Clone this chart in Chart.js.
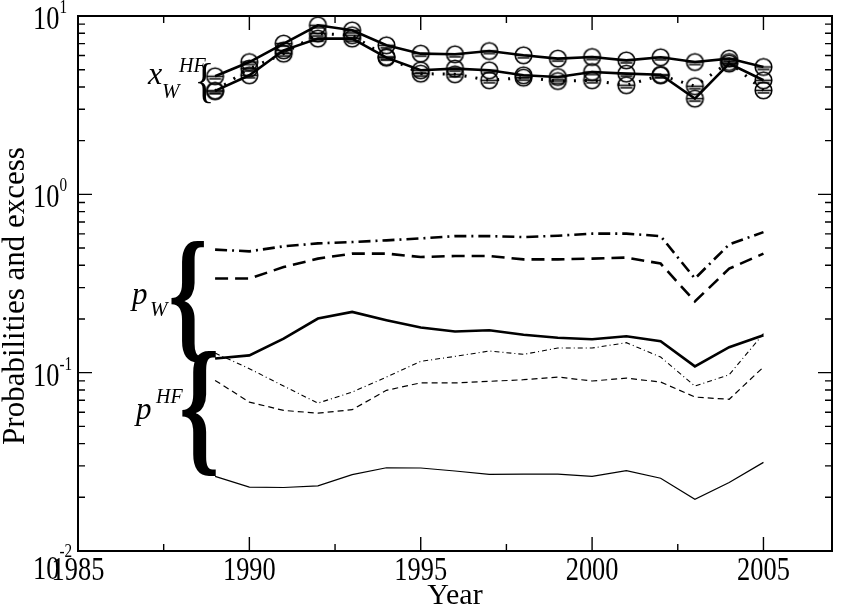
<!DOCTYPE html>
<html>
<head>
<meta charset="utf-8">
<script src="https://cdn.jsdelivr.net/npm/chart.js@4.4.1/dist/chart.umd.min.js"></script>
<style>
  html, body { margin: 0; padding: 0; background: #fff; }
  #wrap { width: 845px; height: 606px; }
</style>
</head>
<body>
<div id="wrap"><canvas id="chartMain" width="845" height="606"></canvas></div>
<script>
// ===== Data =====
const years = [1989, 1990, 1991, 1992, 1993, 1994, 1995, 1996, 1997,
               1998, 1999, 2000, 2001, 2002, 2003, 2004, 2005];

// p_W: three thick curves
const pWSolid   = [0.120, 0.125, 0.155, 0.201, 0.219, 0.197, 0.179, 0.170, 0.173,
                   0.163, 0.157, 0.154, 0.160, 0.150, 0.1085, 0.139, 0.162];
const pWDashed  = [0.337, 0.337, 0.391, 0.436, 0.465, 0.465, 0.445, 0.451, 0.451,
                   0.432, 0.432, 0.436, 0.442, 0.409, 0.251, 0.383, 0.465];
const pWDashDot = [0.490, 0.479, 0.511, 0.531, 0.540, 0.552, 0.566, 0.583, 0.583,
                   0.576, 0.586, 0.602, 0.602, 0.583, 0.337, 0.524, 0.614];

// p^HF: three thin curves
const pHFSolid   = [0.0262, 0.0228, 0.0227, 0.0232, 0.0268, 0.0293, 0.0292, 0.0281, 0.0269,
                    0.0270, 0.0270, 0.0262, 0.0282, 0.0256, 0.0195, 0.0242, 0.0314];
const pHFDashed  = [0.0905, 0.0684, 0.0614, 0.0593, 0.0620, 0.0796, 0.0877, 0.0876, 0.0894,
                    0.0913, 0.0945, 0.0898, 0.0932, 0.0886, 0.0730, 0.0709, 0.1075];
const pHFDashDot = [0.1288, 0.1053, 0.0841, 0.0675, 0.0778, 0.0945, 0.1157, 0.1234, 0.1322,
                    0.1267, 0.1374, 0.1374, 0.1473, 0.1223, 0.0841, 0.0974, 0.1655];

// x_W^HF: curves with circle markers
const xWUpper  = [4.59, 5.52, 7.00, 8.87, 8.31, 6.85, 6.15, 6.10, 6.36,
                  6.02, 5.77, 5.89, 5.64, 5.87, 5.52, 5.77, 5.18];
const xWLower  = [3.80, 4.65, 6.42, 7.47, 7.47, 5.84, 4.96, 5.07, 4.96,
                  4.65, 4.55, 4.85, 4.75, 4.68, 3.44, 5.41, 4.36];
const xWDotted = [3.80, 5.07, 6.15, 7.97, 7.80, 5.90, 4.75, 4.71, 4.36,
                  4.51, 4.32, 4.36, 4.09, 4.65, 4.04, 5.52, 3.83];

// Axis ticks
const xMajorTicks = [1985, 1990, 1995, 2000, 2005];
const xMinorTicks = [1987.5, 1992.5, 1997.5, 2002.5];
const yMajorTicks = [0.01, 0.1, 1, 10];
const yTickExp    = ['-2', '-1', '0', '1'];

const FONT = '"Liberation Serif", "Times New Roman", serif';
const TICK_K = 0.8;   // tick labels are narrower than normal Times
let mainChart = null;

// circle marker with a bar through it
function makeMarker() {
    const c = document.createElement('canvas');
    c.width = 21; c.height = 21;
    const g = c.getContext('2d');
    g.strokeStyle = '#000';
    g.lineWidth = 1.6;
    g.beginPath();
    g.arc(10.5, 10.5, 8.3, 0, Math.PI * 2);
    g.stroke();
    g.lineWidth = 1.5;
    g.beginPath();
    g.moveTo(3, 10.5); g.lineTo(18, 10.5);
    g.moveTo(4.5, 13); g.lineTo(16.5, 13);
    g.stroke();
    return c;
}
const marker = makeMarker();

function toPoints(arr) {
    return years.map((yr, i) => ({ x: yr, y: arr[i] }));
}

function lineSet(arr, width, dash, withMarker) {
    return {
        data: toPoints(arr),
        borderColor: '#000',
        borderWidth: width,
        borderDash: dash,
        fill: false,
        tension: 0,
        pointStyle: withMarker ? marker : 'circle',
        pointRadius: withMarker ? 10 : 0
    };
}

// ===== Text helpers =====
function squeezeText(ctx, txt, x, y, font, align, k) {
    ctx.save();
    ctx.font = font;
    ctx.textAlign = align;
    ctx.textBaseline = 'alphabetic';
    ctx.fillStyle = '#000';
    ctx.translate(x, y);
    ctx.scale(k, 1);
    ctx.fillText(txt, 0, 0);
    ctx.restore();
}

// curly brace glyph stretched into a box
function drawBrace(ctx, x0, y0, x1, y1, bold) {
    ctx.save();
    ctx.font = (bold ? 'bold ' : '') + '140px ' + FONT;
    const m = ctx.measureText('{');
    const w = m.actualBoundingBoxLeft + m.actualBoundingBoxRight;
    const h = m.actualBoundingBoxAscent + m.actualBoundingBoxDescent;
    ctx.translate(x0, y0);
    ctx.scale((x1 - x0) / w, (y1 - y0) / h);
    ctx.fillStyle = '#000';
    ctx.textBaseline = 'alphabetic';
    ctx.textAlign = 'left';
    ctx.fillText('{', m.actualBoundingBoxLeft, m.actualBoundingBoxAscent);
    ctx.restore();
}

// ===== Frame, inward ticks, labels, annotations =====
const framePlugin = {
    id: 'frame',
    afterDatasetsDraw(chart) {
        const ctx = chart.ctx;
        const a = chart.chartArea;
        const xs = chart.scales.x;
        const ys = chart.scales.y;

        ctx.save();
        ctx.strokeStyle = '#000';
        ctx.lineWidth = 1.4;
        ctx.beginPath();
        const tick = (px, len, horizontal) => {
            if (horizontal) {
                ctx.moveTo(px, a.bottom); ctx.lineTo(px, a.bottom - len);
                ctx.moveTo(px, a.top);    ctx.lineTo(px, a.top + len);
            } else {
                ctx.moveTo(a.left, px);  ctx.lineTo(a.left + len, px);
                ctx.moveTo(a.right, px); ctx.lineTo(a.right - len, px);
            }
        };
        xMajorTicks.forEach(v => tick(xs.getPixelForValue(v), 14, true));
        xMinorTicks.forEach(v => tick(xs.getPixelForValue(v), 7, true));
        yMajorTicks.forEach((v, i) => {
            tick(ys.getPixelForValue(v), 14, false);
            if (i < yMajorTicks.length - 1) {
                for (let k = 2; k <= 9; k++) tick(ys.getPixelForValue(v * k), 7, false);
            }
        });
        ctx.stroke();

        ctx.lineWidth = 2;
        ctx.strokeRect(a.left, a.top, a.right - a.left, a.bottom - a.top);
        ctx.restore();

        // x tick labels
        xMajorTicks.forEach(v => {
            squeezeText(ctx, String(v), xs.getPixelForValue(v), 580, '33px ' + FONT, 'center', TICK_K);
        });

        // y tick labels: 10 with exponent, left edge fixed
        yMajorTicks.forEach((v, i) => {
            const py = ys.getPixelForValue(v);
            const base = py + (i === 0 ? 28 : 13);
            const lift = (i === 0 ? 22 : 16);
            ctx.font = '33px ' + FONT;
            const bw = ctx.measureText('10').width * TICK_K;
            squeezeText(ctx, '10', 33, base, '33px ' + FONT, 'left', TICK_K);
            squeezeText(ctx, yTickExp[i], 33 + bw, base - lift, '19px ' + FONT, 'left', TICK_K);
        });

        // axis titles
        squeezeText(ctx, 'Year', (a.left + a.right) / 2, 604, '30px ' + FONT, 'center', 1);
        ctx.save();
        ctx.translate(24, 296);
        ctx.rotate(-Math.PI / 2);
        ctx.font = '31px ' + FONT;
        ctx.textAlign = 'center';
        ctx.fillStyle = '#000';
        ctx.fillText('Probabilities and excess', 0, 0);
        ctx.restore();

        // annotations
        const it = (s) => 'italic ' + s + 'px ' + FONT;
        squeezeText(ctx, 'x', 148, 84, it(32), 'left', 1);
        squeezeText(ctx, 'W', 162, 98, it(21), 'left', 1);
        squeezeText(ctx, 'HF', 179, 72, it(20), 'left', 1);
        drawBrace(ctx, 198, 64, 211, 104, false);

        squeezeText(ctx, 'p', 132, 304, it(31), 'left', 1);
        squeezeText(ctx, 'W', 150, 316, it(21), 'left', 1);
        drawBrace(ctx, 171, 242, 204, 363, true);

        squeezeText(ctx, 'p', 136, 419, it(31), 'left', 1);
        squeezeText(ctx, 'HF', 156, 403, it(20), 'left', 1);
        drawBrace(ctx, 182, 352, 216, 476, true);
    }
};

// ===== Chart =====
function initMainChart() {
    const ctx = document.getElementById('chartMain').getContext('2d');
    mainChart = new Chart(ctx, {
        type: 'line',
        data: {
            datasets: [
                lineSet(pWSolid, 2.6, [], false),
                lineSet(pWDashed, 2.6, [13, 7], false),
                lineSet(pWDashDot, 2.6, [12, 5, 2, 5], false),
                lineSet(pHFSolid, 1.2, [], false),
                lineSet(pHFDashed, 1.2, [6, 4], false),
                lineSet(pHFDashDot, 1.1, [5, 3, 1, 3], false),
                lineSet(xWUpper, 2.6, [], true),
                lineSet(xWLower, 2.6, [], true),
                lineSet(xWDotted, 3, [2, 9], true)
            ]
        },
        options: {
            responsive: false,
            animation: false,
            devicePixelRatio: 1,
            layout: { padding: { left: 78, right: 2, top: 16, bottom: 55 } },
            plugins: { legend: { display: false }, tooltip: { enabled: false } },
            scales: {
                x: {
                    type: 'linear', min: 1985, max: 2007,
                    ticks: { display: false },
                    grid: { display: false, drawTicks: false },
                    border: { display: false },
                    afterFit: s => { s.height = 0; }
                },
                y: {
                    type: 'logarithmic', min: 0.01, max: 10,
                    ticks: { display: false },
                    grid: { display: false, drawTicks: false },
                    border: { display: false },
                    afterFit: s => { s.width = 0; }
                }
            }
        },
        plugins: [framePlugin]
    });
}

document.addEventListener('DOMContentLoaded', initMainChart);
</script>
</body>
</html>
